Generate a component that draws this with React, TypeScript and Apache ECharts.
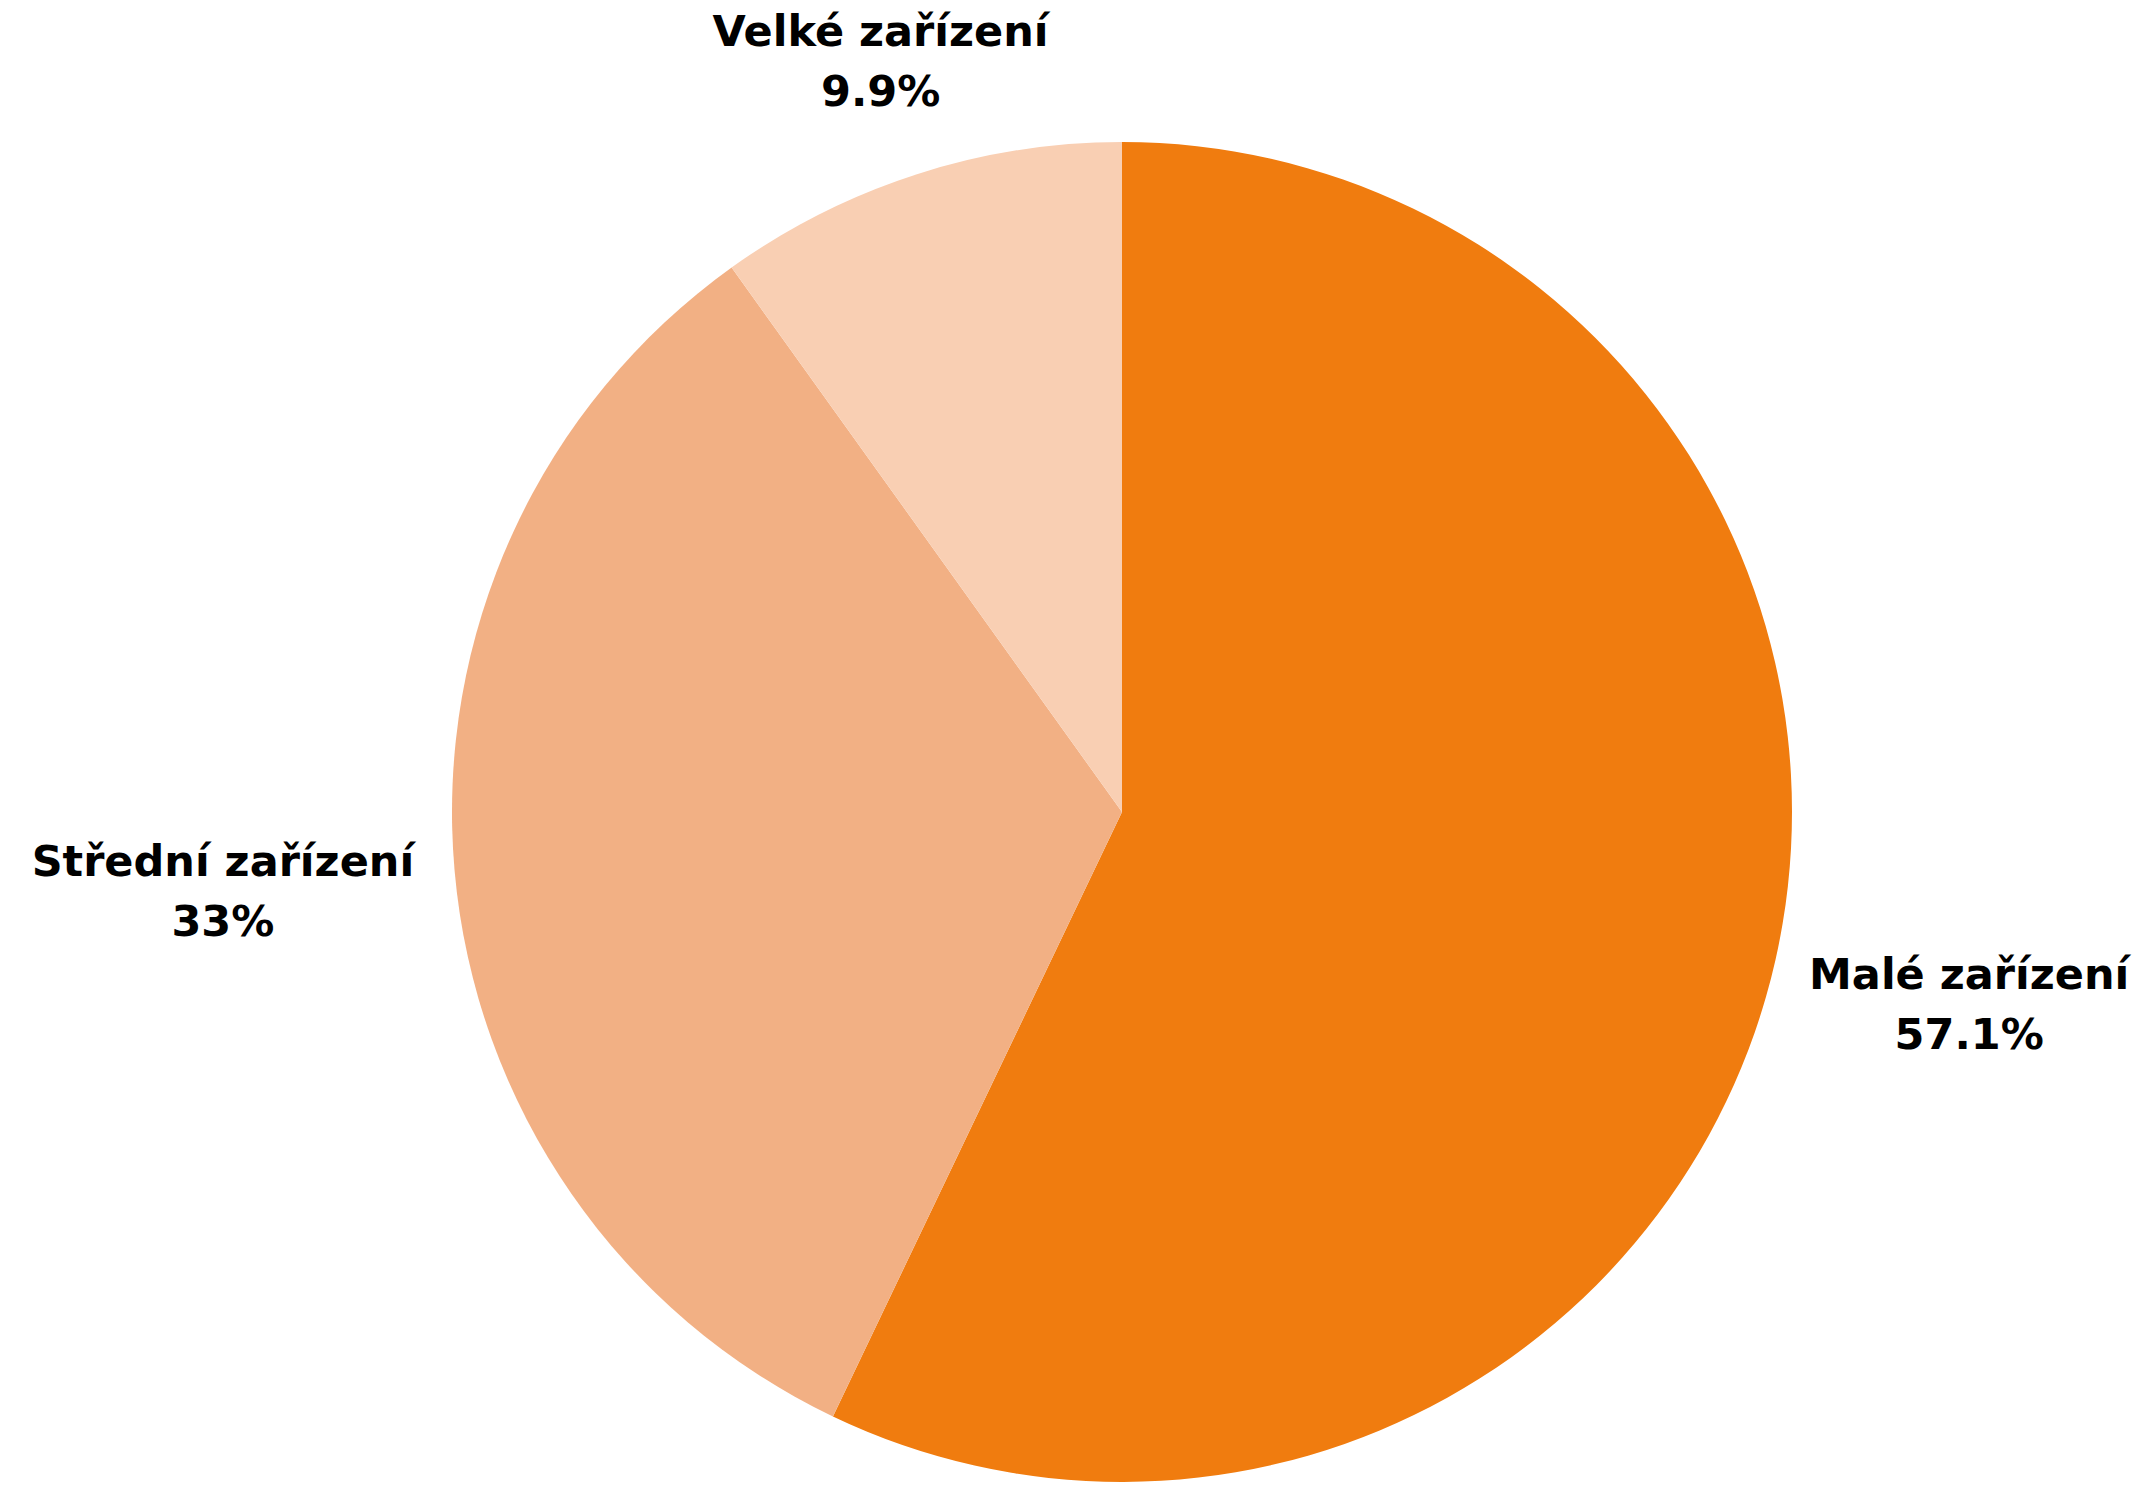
import React, { useEffect, useRef } from "react";
import * as echarts from "echarts";

const categories = ["Malé zařízení", "Střední zařízení", "Velké zařízení"];
const values = [57.1, 33, 9.9];
const colors = ["#f07c0f", "#f2b084", "#f9cfb3"];

const CX = 1122;
const CY = 812;
const R = 670;
const GAP = 42;

export default function App() {
  const ref = useRef<HTMLDivElement>(null);
  useEffect(() => {
    if (!ref.current) return;
    const chart = echarts.init(ref.current, undefined, { renderer: "svg" });
    const total = values.reduce((a, b) => a + b, 0);
    const midAngle = (i: number) => {
      let cum = 0;
      for (let k = 0; k < i; k++) cum += values[k];
      const frac = (cum + values[i] / 2) / total;
      return ((90 - frac * 360) * Math.PI) / 180;
    };
    chart.setOption({
      animation: false,
      backgroundColor: "#ffffff",
      series: [
        {
          type: "pie",
          center: [CX, CY],
          radius: R,
          startAngle: 90,
          clockwise: true,
          data: categories.map((name, i) => ({
            name,
            value: values[i],
            itemStyle: { color: colors[i] },
          })),
          itemStyle: { borderWidth: 0 },
          label: {
            show: true,
            position: "outside",
            formatter: (p: any) => `${p.name}\n${p.value}%`,
            fontFamily: "DejaVu Sans",
            fontWeight: "bold",
            fontSize: 43,
            lineHeight: 60,
            color: "#000000",
            align: "center",
            overflow: "none",
          },
          labelLine: { show: false },
          labelLayout: (params: any) => {
            const a = midAngle(params.dataIndex);
            const ux = Math.cos(a);
            const uy = -Math.sin(a);
            const w = params.labelRect.width;
            const h = params.labelRect.height;
            const ext = Math.sqrt(Math.pow((w / 2) * ux, 2) + Math.pow((h / 2) * uy, 2));
            const d = R + GAP + ext;
            return {
              x: CX + ux * d,
              y: CY + uy * d,
              align: "center",
              verticalAlign: "middle",
            };
          },
        },
      ],
    });
    return () => chart.dispose();
  }, []);
  return (
    <div
      ref={ref}
      style={{ position: "absolute", left: 0, top: 0, width: 2152, height: 1485 }}
    />
  );
}
